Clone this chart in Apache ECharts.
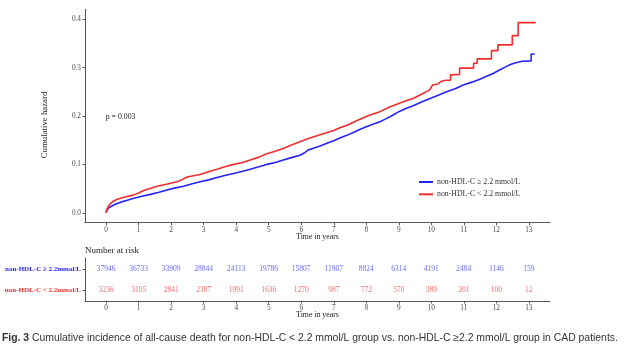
<!DOCTYPE html>
<html><head><meta charset="utf-8">
<script src="https://cdn.jsdelivr.net/npm/echarts@6/dist/echarts.min.js"></script>
<style>html,body{margin:0;padding:0;background:#fff}#c{width:627px;height:355px}</style>
</head><body><div id="c"></div>
<script>
// ---- data ----
const seriesNames = ['non-HDL-C \u2265 2.2 mmol/L', 'non-HDL-C < 2.2 mmol/L'];
const blueTimes = [0,0.02,0.08,0.15,0.3,0.45,0.65,0.85,1.1,1.36,1.6,1.87,2.1,2.38,2.65,2.89,3.15,3.41,3.65,3.92,4.2,4.43,4.7,4.94,5.2,5.45,5.7,5.96,6.1,6.22,6.4,6.58,6.85,7.0,7.17,7.4,7.6,7.8,8.0,8.2,8.42,8.6,8.8,9.0,9.2,9.44,9.7,10.0,10.25,10.47,10.75,10.98,11.25,11.49,11.7,11.9,12.1,12.3,12.45,12.6,12.8,13.07,13.07,13.18];
const blueHazard = [0,0.005,0.010,0.013,0.018,0.022,0.026,0.030,0.034,0.038,0.042,0.047,0.051,0.055,0.060,0.064,0.068,0.073,0.077,0.081,0.086,0.090,0.095,0.100,0.104,0.109,0.114,0.119,0.124,0.130,0.134,0.138,0.145,0.149,0.154,0.160,0.166,0.172,0.178,0.183,0.188,0.194,0.201,0.209,0.215,0.221,0.229,0.237,0.244,0.250,0.257,0.264,0.270,0.276,0.282,0.288,0.295,0.302,0.307,0.310,0.313,0.314,0.328,0.328];
const redTimes = [0,0.02,0.07,0.13,0.22,0.34,0.55,0.85,1.0,1.15,1.35,1.57,1.85,2.18,2.35,2.49,2.89,3.15,3.41,3.65,3.92,4.2,4.43,4.7,4.94,5.2,5.45,5.7,5.96,6.2,6.48,6.8,7.0,7.17,7.45,7.7,8.0,8.2,8.42,8.7,9.0,9.2,9.44,9.7,9.95,10.0,10.04,10.2,10.31,10.45,10.59,10.59,10.87,10.87,11.30,11.30,11.41,11.41,11.85,11.85,12.05,12.05,12.49,12.49,12.67,12.67,13.21];
const redHazard = [0,0.007,0.013,0.019,0.024,0.028,0.032,0.037,0.041,0.046,0.050,0.055,0.059,0.064,0.069,0.074,0.079,0.085,0.090,0.095,0.100,0.104,0.109,0.115,0.122,0.127,0.133,0.140,0.147,0.153,0.159,0.166,0.170,0.175,0.182,0.190,0.199,0.204,0.209,0.218,0.226,0.231,0.236,0.245,0.254,0.258,0.264,0.266,0.272,0.274,0.274,0.285,0.286,0.299,0.299,0.309,0.309,0.318,0.318,0.335,0.335,0.347,0.347,0.366,0.366,0.393,0.393];
const xTicks = [0,1,2,3,4,5,6,7,8,9,10,11,12,13];
const yTicks = [0,0.1,0.2,0.3,0.4];
const riskRowLabels = ['non-HDL-C < 2.2mmol/L', 'non-HDL-C \u2265 2.2mmol/L'];
const riskTimes = [0,1,2,3,4,5,6,7,8,9,10,11,12,13];
const riskBlue = [37946,36733,33909,28844,24113,19786,15807,11907,8824,6314,4191,2484,1146,159];
const riskRed = [3236,3105,2841,2387,1991,1636,1270,987,772,570,380,201,100,12];
const pText = 'p = 0.003';
const captionBold = 'Fig. 3';
const captionText = ' Cumulative incidence of all-cause death for non-HDL-C < 2.2 mmol/L group vs. non-HDL-C \u22652.2 mmol/L group in CAD patients.';

// ---- chart ----
const BLUE = '#2323ff', RED = '#f22c2c';
const SERIF = '"Liberation Serif","Times New Roman",serif';
const axisCommon = {
  axisLine: {show: true, onZero: false, lineStyle: {color: '#555', width: 1}},
  splitLine: {show: false}
};
const chart = echarts.init(document.getElementById('c'), null, {renderer: 'canvas'});
const zip = (a, b) => a.map((v, i) => [v, b[i]]);
chart.setOption({
  animation: false,
  backgroundColor: '#fff',
  grid: [
    {left: 85, right: 77, top: 9.3, bottom: 132.3},
    {left: 85, right: 77, top: 258, bottom: 54}
  ],
  xAxis: [
    Object.assign({type: 'value', gridIndex: 0, min: -0.65, max: 13.65,
      name: 'Time in years', nameLocation: 'middle', nameGap: 10, nameMoveOverlap: false,
      nameTextStyle: {fontFamily: SERIF, fontSize: 7.8, color: '#222'},
      axisTick: {show: true, customValues: xTicks, length: 2.5, lineStyle: {color: '#555'}},
      axisLabel: {customValues: xTicks, fontFamily: SERIF, fontSize: 7.3, color: '#4d4d4d', margin: 4}
    }, axisCommon),
    Object.assign({type: 'value', gridIndex: 1, min: -0.65, max: 13.65,
      name: 'Time in years', nameLocation: 'middle', nameGap: 10, nameMoveOverlap: false,
      nameTextStyle: {fontFamily: SERIF, fontSize: 7.8, color: '#222'},
      axisTick: {show: true, customValues: xTicks, length: 2.5, lineStyle: {color: '#555'}},
      axisLabel: {customValues: xTicks, fontFamily: SERIF, fontSize: 7.3, color: '#4d4d4d', margin: 4}
    }, axisCommon)
  ],
  yAxis: [
    Object.assign({type: 'value', gridIndex: 0, min: -0.0205, max: 0.4205,
      axisTick: {show: true, customValues: yTicks, length: 2.5, lineStyle: {color: '#555'}},
      axisLabel: {customValues: yTicks, fontFamily: SERIF, fontSize: 7.3, color: '#4d4d4d', margin: 4,
        formatter: v => v.toFixed(1)}
    }, axisCommon),
    Object.assign({type: 'category', gridIndex: 1, data: riskRowLabels,
      axisTick: {show: true, alignWithLabel: true, length: 2.5, lineStyle: {color: '#555'}},
      axisLabel: {margin: 4, fontFamily: SERIF, fontSize: 7, fontWeight: 'bold',
        formatter: (v, i) => i === 0 ? '{r|' + v + '}' : '{b|' + v + '}',
        rich: {r: {color: RED, fontFamily: SERIF, fontSize: 7, fontWeight: 'bold'},
               b: {color: BLUE, fontFamily: SERIF, fontSize: 7, fontWeight: 'bold'}}}
    }, axisCommon)
  ],
  legend: {
    orient: 'vertical', left: 419, top: 177, padding: 0, itemGap: 2.3,
    itemWidth: 14, itemHeight: 2, icon: 'rect',
    textStyle: {fontFamily: SERIF, fontSize: 7.8, color: '#333', lineHeight: 10, padding: [0, 0, 0, -1]},
    data: seriesNames
  },
  series: [
    {name: seriesNames[0], type: 'line', xAxisIndex: 0, yAxisIndex: 0,
     showSymbol: false, data: zip(blueTimes, blueHazard), lineStyle: {color: BLUE, width: 1.6}, itemStyle: {color: BLUE}, z: 3},
    {name: seriesNames[1], type: 'line', xAxisIndex: 0, yAxisIndex: 0,
     showSymbol: false, data: zip(redTimes, redHazard), lineStyle: {color: RED, width: 1.6}, itemStyle: {color: RED}, z: 4},
    {type: 'scatter', xAxisIndex: 1, yAxisIndex: 1, symbolSize: 0, silent: true,
     data: riskTimes.map((t, i) => [t, 1, riskBlue[i]]),
     label: {show: true, position: 'inside', formatter: p => String(p.value[2]),
       fontFamily: SERIF, fontSize: 7.5, color: '#3f3fff'}},
    {type: 'scatter', xAxisIndex: 1, yAxisIndex: 1, symbolSize: 0, silent: true,
     data: riskTimes.map((t, i) => [t, 0, riskRed[i]]),
     label: {show: true, position: 'inside', formatter: p => String(p.value[2]),
       fontFamily: SERIF, fontSize: 7.5, color: '#f24545'}}
  ],
  graphic: [
    {type: 'text', x: 45, y: 125, rotation: Math.PI / 2,
     style: {text: 'Cumulative hazard', fontFamily: SERIF, fontSize: 8.8, fill: '#222', align: 'center', verticalAlign: 'middle'}},
    {type: 'text', x: 105.7, y: 116.7,
     style: {text: pText, fontFamily: SERIF, fontSize: 7.8, fill: '#222', align: 'left', verticalAlign: 'middle'}},
    {type: 'text', x: 85, y: 251,
     style: {text: 'Number at risk', fontFamily: SERIF, fontSize: 9, fill: '#222', align: 'left', verticalAlign: 'middle'}},
    {type: 'text', x: 2, y: 338,
     style: {text: '{b|' + captionBold + '}{n|' + captionText + '}', verticalAlign: 'middle', align: 'left',
       rich: {b: {fontFamily: '"Liberation Sans",Arial,sans-serif', fontSize: 10.4, fontWeight: 'bold', fill: '#333', color: '#333'},
              n: {fontFamily: '"Liberation Sans",Arial,sans-serif', fontSize: 10.4, fill: '#333', color: '#333'}}}}
  ]
});
</script>
</body></html>
